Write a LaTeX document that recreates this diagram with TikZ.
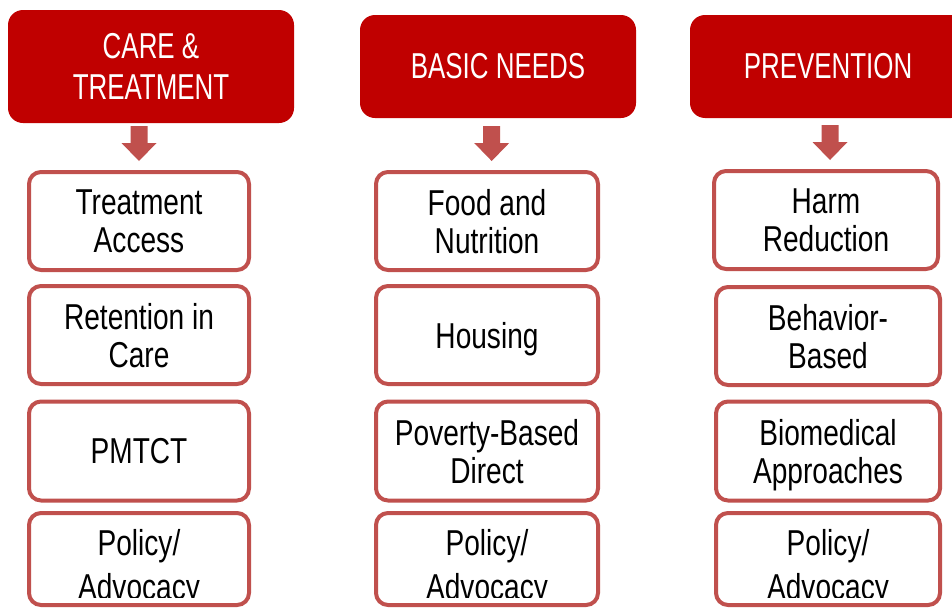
\documentclass[tikz,border=0pt]{standalone}
\usepackage{fontspec}
\setmainfont[FakeStretch=0.78]{Liberation Sans}
\newfontfamily\hfont[FakeStretch=0.72]{Liberation Sans}
\usetikzlibrary{calc}
\definecolor{hdred}{HTML}{C00000}
\definecolor{bxred}{HTML}{C0504D}
\begin{document}
\begin{tikzpicture}[x=1pt,y=-1pt,
  header/.style={fill=hdred, rounded corners=15pt, text=white,
    font=\hfont\fontsize{36}{41}\selectfont, align=center, inner sep=0pt},
  item/.style={draw=bxred, line width=4pt, fill=white, rounded corners=12pt,
    minimum height=98pt, align=center, font=\fontsize{36}{38}\selectfont,
    inner sep=0pt, text depth=0pt},
  lastitem/.style={draw=bxred, line width=4pt, fill=white, rounded corners=12pt,
    minimum height=92pt, inner sep=0pt},
  lasttext/.style={align=center, font=\fontsize{36}{44}\selectfont,
    inner sep=0pt, text depth=0pt},
  adx/.store in=\adx, adx=0,
  blockarrow/.style={fill=bxred, to path={let \p1=(\tikztostart), \p2=(\tikztotarget) in
    ({\x2+\adx pt-8.5pt},{\y2+44pt}) -- ({\x2+\adx pt+8.5pt},{\y2+44pt})
    -- ({\x2+\adx pt+8.5pt},{\y2+27pt}) -- ({\x2+\adx pt+17.5pt},{\y2+27pt})
    -- ({\x2+\adx pt},{\y2+9pt}) -- ({\x2+\adx pt-17.5pt},{\y2+27pt})
    -- ({\x2+\adx pt-8.5pt},{\y2+27pt}) -- cycle}}
]
\useasboundingbox (0,0) rectangle (952,608);
\clip (0,0) rectangle (952,608);
\fill[white] (0,0) rectangle (952,608);

% headers
\node[header, minimum width=286pt, minimum height=113pt] (h1) at (151,66.5) {CARE \&\\TREATMENT};
\node[header, minimum width=276pt, minimum height=103pt] (h2) at (498,66.5) {BASIC NEEDS};
\node[header, minimum width=276pt, minimum height=103pt] (h3) at (828,66.5) {PREVENTION};

% column 1
\node[item, minimum width=220pt] (c1a) at (139,221) {Treatment\\Access};
\node[item, minimum width=220pt] (c1b) at (139,335) {Retention in\\Care};
\node[item, minimum width=220pt, minimum height=99pt] (c1c) at (139,451) {PMTCT};
\node[lastitem, minimum width=220pt] (c1d) at (139,559) {};

% column 2
\node[item, minimum width=222pt] (c2a) at (487,221) {Food and\\Nutrition};
\node[item, minimum width=222pt] (c2b) at (487,335) {Housing};
\node[item, minimum width=222pt, minimum height=99pt] (c2c) at (487,451) {Poverty-Based\\Direct};
\node[lastitem, minimum width=222pt] (c2d) at (487,559) {};

% column 3
\node[item, minimum width=224pt] (c3a) at (826,220) {Harm\\Reduction};
\node[item, minimum width=224pt] (c3b) at (828,336) {Behavior-\\Based};
\node[item, minimum width=224pt, minimum height=99pt] (c3c) at (828,451) {Biomedical\\Approaches};
\node[lastitem, minimum width=224pt] (c3d) at (828,559) {};

% texts of the last row, cut off at the bottom
\begin{scope}
\clip (0,0) rectangle (952,597.5);
\node[lasttext] (t1d) at ([yshift=-5pt]c1d.center) {Policy/\\Advocacy};
\node[lasttext] (t2d) at ([yshift=-5pt]c2d.center) {Policy/\\Advocacy};
\node[lasttext] (t3d) at ([yshift=-5pt]c3d.center) {Policy/\\Advocacy};
\end{scope}

% arrows
\path[blockarrow] (h1.south) to (c1a.north);
\path[blockarrow, adx=4.7] (h2.south) to (c2a.north);
\path[blockarrow, adx=4] (h3.south) to (c3a.north);
\end{tikzpicture}
\end{document}
